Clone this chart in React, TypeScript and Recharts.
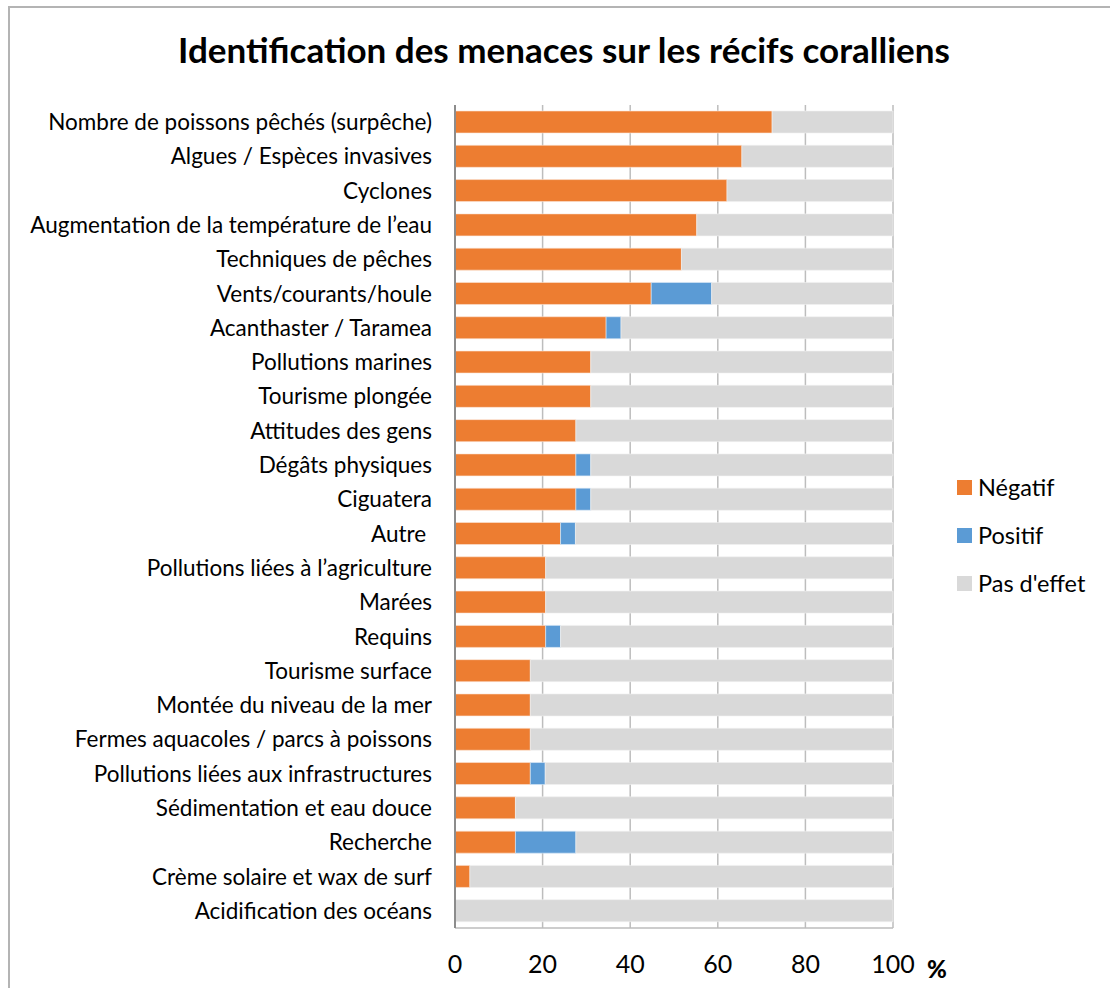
import React from "react";
import { BarChart, Bar, XAxis, YAxis, CartesianGrid } from "recharts";

const categories = [
  "Nombre de poissons pêchés (surpêche)",
  "Algues / Espèces invasives",
  "Cyclones",
  "Augmentation de la température de l’eau",
  "Techniques de pêches",
  "Vents/courants/houle",
  "Acanthaster / Taramea",
  "Pollutions marines",
  "Tourisme plongée",
  "Attitudes des gens",
  "Dégâts physiques",
  "Ciguatera",
  "Autre\u00a0",
  "Pollutions liées à l’agriculture",
  "Marées",
  "Requins",
  "Tourisme surface",
  "Montée du niveau de la mer",
  "Fermes aquacoles / parcs à poissons",
  "Pollutions liées aux infrastructures",
  "Sédimentation et eau douce",
  "Recherche",
  "Crème solaire et wax de surf",
  "Acidification des océans",
];

const negatif = [72.4, 65.5, 62.1, 55.2, 51.7, 44.8, 34.5, 31.0, 31.0, 27.6, 27.6, 27.6, 24.1, 20.7, 20.7, 20.7, 17.2, 17.2, 17.2, 17.2, 13.8, 13.8, 3.4, 0];
const positif = [0, 0, 0, 0, 0, 13.8, 3.4, 0, 0, 0, 3.4, 3.4, 3.4, 0, 0, 3.4, 0, 0, 0, 3.4, 0, 13.8, 0, 0];
const pasEffet = [27.6, 34.5, 37.9, 44.8, 48.3, 41.4, 62.1, 69.0, 69.0, 72.4, 69.0, 69.0, 72.5, 79.3, 79.3, 75.9, 82.8, 82.8, 82.8, 79.4, 86.2, 72.4, 96.6, 100];
const xTicks = [0, 20, 40, 60, 80, 100];

const seriesNames = ["Négatif", "Positif", "Pas d'effet"];
const colors = ["#ED7D31", "#5B9BD5", "#D9D9D9"];

const data = categories.map((c, i) => ({
  name: c,
  neg: negatif[i],
  pos: positif[i],
  pas: pasEffet[i],
}));

const FONT = "Lato, 'Open Sans', sans-serif";

export default function App() {
  return (
    <div style={{ position: "absolute", left: 0, top: 0, width: 1110, height: 988, background: "#fff", overflow: "hidden" }}>
      <div style={{ position: "absolute", left: 8, top: 6, width: 1200, height: 1100, borderLeft: "2px solid #b4b4b4", borderTop: "2px solid #b4b4b4" }} />
      <div style={{ position: "absolute", left: 0, top: 27, width: 1128, textAlign: "center", fontFamily: FONT, fontWeight: 700, fontSize: 35, color: "#000", lineHeight: "44px" }}>
        Identification des menaces sur les récifs coralliens
      </div>
      <div style={{ position: "absolute", left: 0, top: 0 }}>
        <BarChart
          width={1110}
          height={988}
          data={data}
          layout="vertical"
          margin={{ top: 105, right: 217, bottom: 0, left: 0 }}
          barSize={22}
        >
          <CartesianGrid horizontal={false} vertical stroke="#bdbdbd" strokeWidth={1.5} />
          <XAxis
            type="number"
            domain={[0, 100]}
            ticks={xTicks}
            interval={0}
            axisLine={{ stroke: "#bdbdbd", strokeWidth: 1.5 }}
            tickLine={false}
            tickSize={0}
            tickMargin={27}
            tick={{ fontFamily: FONT, fontSize: 25, fill: "#000" }}
            height={60}
          />
          <YAxis
            type="category"
            dataKey="name"
            width={455}
            interval={0}
            axisLine={{ stroke: "#8c8c8c", strokeWidth: 2 }}
            tickLine={false}
            tickSize={0}
            tickMargin={23}
            tick={{ fontFamily: FONT, fontSize: 22.5, fill: "#000" }}
          />
          <Bar dataKey="neg" name={seriesNames[0]} stackId="a" fill={colors[0]} stroke="#fbe5d6" strokeWidth={0.6} isAnimationActive={false} />
          <Bar dataKey="pos" name={seriesNames[1]} stackId="a" fill={colors[1]} stroke="#deebf7" strokeWidth={0.6} isAnimationActive={false} />
          <Bar dataKey="pas" name={seriesNames[2]} stackId="a" fill={colors[2]} stroke="#f2f2f2" strokeWidth={0.6} isAnimationActive={false} />
        </BarChart>
      </div>
      <div style={{ position: "absolute", left: 927, top: 954, fontFamily: FONT, fontWeight: 900, fontSize: 24, color: "#000" }}>%</div>
      <div style={{ position: "absolute", left: 957, top: 463, fontFamily: FONT, fontSize: 23.5, color: "#000" }}>
        {seriesNames.map((n, i) => (
          <div key={n} style={{ display: "flex", alignItems: "center", height: 48 }}>
            <div style={{ width: 15, height: 15, background: colors[i], marginRight: 6 }} />
            <span>{n}</span>
          </div>
        ))}
      </div>
    </div>
  );
}
